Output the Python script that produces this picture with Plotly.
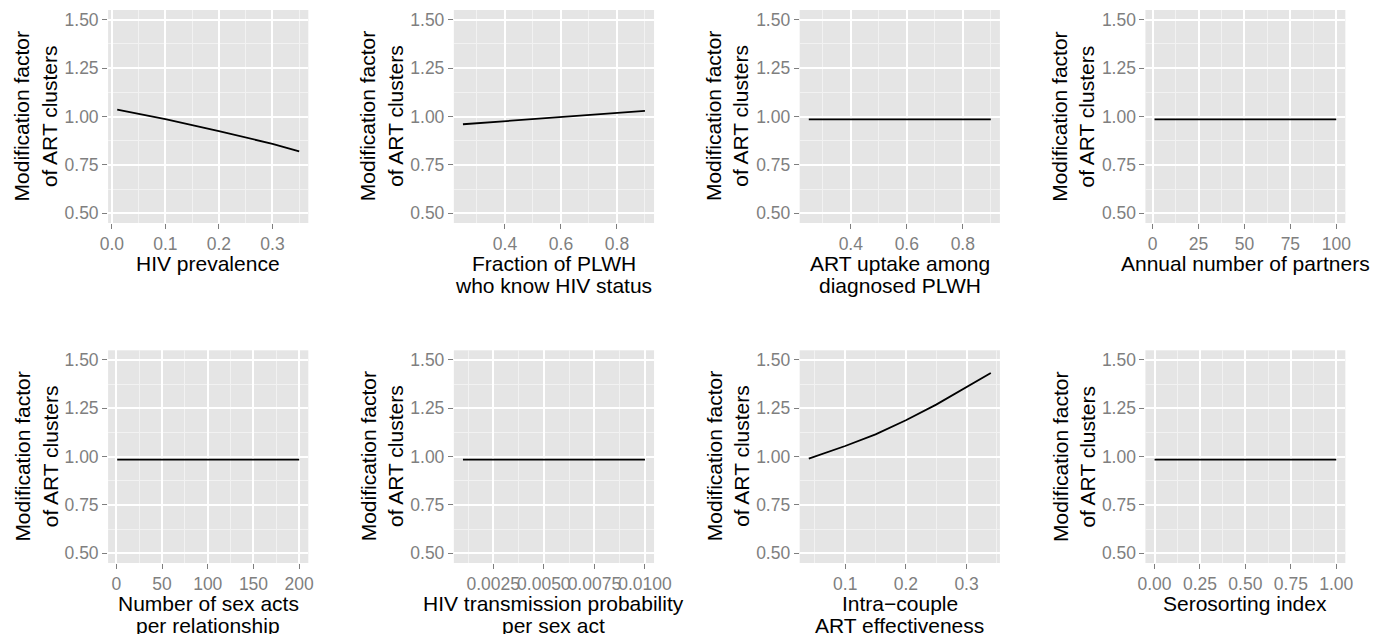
import plotly.graph_objects as go

# ---------------- data ----------------
y_tickvals = [0.50, 0.75, 1.00, 1.25, 1.50]
y_ticktext = ["0.50", "0.75", "1.00", "1.25", "1.50"]
y_title = "Modification factor<br>of ART clusters"

prev_x = [0.01, 0.10, 0.20, 0.30, 0.35]
prev_y = [1.035, 0.986, 0.924, 0.859, 0.820]

know_x = [0.25, 0.60, 0.90]
know_y = [0.960, 0.997, 1.029]

uptake_x = [0.25, 0.90]
uptake_y = [0.985, 0.985]

partners_x = [1, 100]
partners_y = [0.985, 0.985]

acts_x = [1, 200]
acts_y = [0.985, 0.985]

trans_x = [0.001, 0.010]
trans_y = [0.985, 0.985]

eff_x = [0.04, 0.10, 0.15, 0.20, 0.25, 0.30, 0.34]
eff_y = [0.990, 1.055, 1.115, 1.188, 1.269, 1.360, 1.433]

sero_x = [0.0, 1.0]
sero_y = [0.985, 0.985]

titles = [["HIV prevalence"],
          ["Fraction of PLWH", "who know HIV status"],
          ["ART uptake among", "diagnosed PLWH"],
          ["Annual number of partners"],
          ["Number of sex acts", "per relationship"],
          ["HIV transmission probability", "per sex act"],
          ["Intra\u2212couple", "ART effectiveness"],
          ["Serosorting index"]]

x_tickvals = [[0.0, 0.1, 0.2, 0.3],
              [0.4, 0.6, 0.8],
              [0.4, 0.6, 0.8],
              [0, 25, 50, 75, 100],
              [0, 50, 100, 150, 200],
              [0.0025, 0.0050, 0.0075, 0.0100],
              [0.1, 0.2, 0.3],
              [0.00, 0.25, 0.50, 0.75, 1.00]]
x_ticktext = [["0.0", "0.1", "0.2", "0.3"],
              ["0.4", "0.6", "0.8"],
              ["0.4", "0.6", "0.8"],
              ["0", "25", "50", "75", "100"],
              ["0", "50", "100", "150", "200"],
              ["0.0025", "0.0050", "0.0075", "0.0100"],
              ["0.1", "0.2", "0.3"],
              ["0.00", "0.25", "0.50", "0.75", "1.00"]]
x_minor = [0.05, 0.1, 0.1, 12.5, 25, 0.00125, 0.05, 0.125]

xs = [prev_x, know_x, uptake_x, partners_x, acts_x, trans_x, eff_x, sero_x]
ys = [prev_y, know_y, uptake_y, partners_y, acts_y, trans_y, eff_y, sero_y]

# ---------------- layout geometry ----------------
W, H = 1398, 634
col_px = [(102, 306), (454.3, 658.3), (806.7, 1010.7), (1159, 1362.7)]
row_px = [(10, 223), (350.3, 563)]

FONT = "Liberation Sans, Arial, Helvetica, sans-serif"
BG = "#E5E5E5"
GREY50 = "#7F7F7F"
TICK_SIZE = 17.5
TITLE_SIZE = 21

fig = go.Figure()
layout = dict(
    width=W, height=H,
    margin=dict(l=0, r=0, t=0, b=0),
    paper_bgcolor="white",
    plot_bgcolor=BG,
    showlegend=False,
    font=dict(family=FONT, color="black"),
)
annotations = []

def expand(vals, frac=0.05):
    lo, hi = min(vals), max(vals)
    d = hi - lo
    return [lo - frac * d, hi + frac * d]

for i in range(8):
    r, c = divmod(i, 4)
    n = i + 1
    xa = "x" if n == 1 else f"x{n}"
    ya = "y" if n == 1 else f"y{n}"
    x0, x1 = col_px[c]
    y0, y1 = row_px[r]
    dx = [x0 / W, x1 / W]
    dy = [1 - y1 / H, 1 - y0 / H]

    fig.add_trace(go.Scatter(x=xs[i], y=ys[i], mode="lines",
                             line=dict(color="black", width=1.8),
                             xaxis=xa, yaxis=ya, hoverinfo="x+y"))

    common = dict(
        showline=False, zeroline=False, showgrid=True,
        gridcolor="white", gridwidth=1.8,
        ticks="outside", ticklen=5, tickwidth=1.3, tickcolor=GREY50,
        tickfont=dict(family=FONT, size=TICK_SIZE, color=GREY50),
        fixedrange=True,
    )
    layout["xaxis" if n == 1 else f"xaxis{n}"] = dict(
        domain=dx, anchor=ya, range=expand(xs[i]),
        tickmode="array", tickvals=x_tickvals[i], ticktext=x_ticktext[i],
        tickangle=0,
        minor=dict(tickmode="linear", tick0=0, dtick=x_minor[i],
                   showgrid=True, gridcolor="#F2F2F2", gridwidth=1, ticks=""),
        **common)
    layout["yaxis" if n == 1 else f"yaxis{n}"] = dict(
        domain=dy, anchor=xa, range=[0.45, 1.55],
        tickmode="array", tickvals=y_tickvals, ticktext=y_ticktext,
        minor=dict(tickmode="linear", tick0=0.5, dtick=0.125,
                   showgrid=True, gridcolor="#F2F2F2", gridwidth=1, ticks=""),
        **common)

    # y-axis title
    annotations.append(dict(
        text=y_title, textangle=-90, showarrow=False,
        xref="paper", yref="paper",
        x=(x0 - 73.5) / W, y=1 - (y0 + y1) / 2 / H,
        xanchor="center", yanchor="middle",
        font=dict(family=FONT, size=TITLE_SIZE, color="black")))
    # x-axis title, one annotation per line for tight line spacing
    for k, line in enumerate(titles[i]):
        annotations.append(dict(
            text=line, showarrow=False,
            xref="paper", yref="paper",
            x=(x0 + x1) / 2 / W, y=1 - (y1 + 27 + 21.5 * k) / H,
            xanchor="center", yanchor="top", align="center",
            font=dict(family=FONT, size=TITLE_SIZE, color="black")))

layout["annotations"] = annotations
fig.update_layout(**layout)
# remove the browser's default 8px body margin so the figure sits at (0,0)
fig.write_html("out.html", config={"displayModeBar": False},
               post_script="document.body.style.margin='0px';")
